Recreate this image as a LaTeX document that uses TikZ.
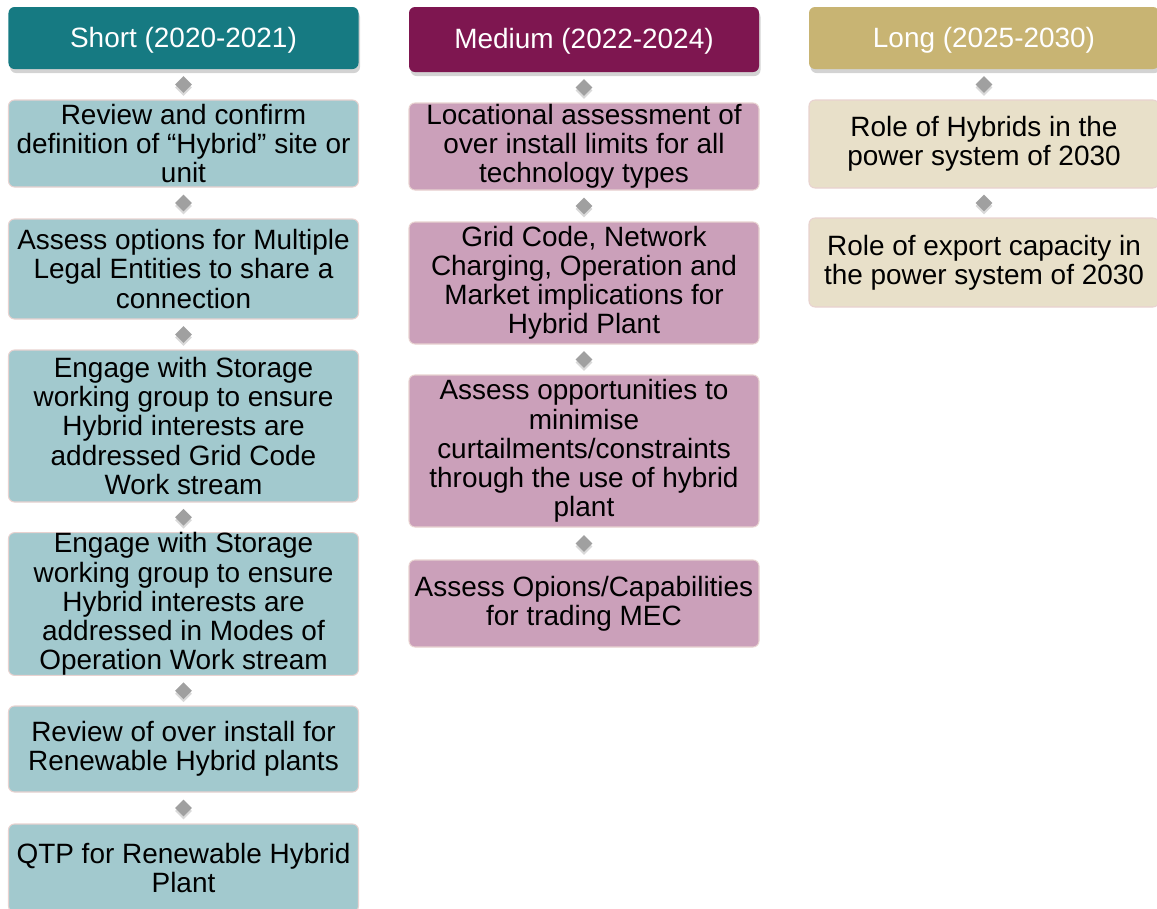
\documentclass[tikz,border=0pt]{standalone}
\usepackage{fontspec}
\setmainfont{Liberation Sans}
\usetikzlibrary{shapes.geometric,shadows,calc}

\definecolor{shortdark}{RGB}{22,122,130}
\definecolor{shortlight}{RGB}{162,201,206}
\definecolor{mediumdark}{RGB}{126,22,80}
\definecolor{mediumlight}{RGB}{203,160,186}
\definecolor{longdark}{RGB}{200,180,115}
\definecolor{longlight}{RGB}{232,224,201}
\definecolor{taskline}{RGB}{232,210,208}
\definecolor{linkgray}{RGB}{160,160,160}

\begin{document}
\begin{tikzpicture}[head/.style={rectangle, rounded corners=1.2mm, minimum width=7cm, inner sep=0pt, text=white, text height=10.6pt, text depth=0pt, font=\fontsize{15.9}{16.6}\selectfont, drop shadow={shadow xshift=0.3mm, shadow yshift=-0.8mm, opacity=0.35}},
    task/.style={rectangle, rounded corners=1.2mm, minimum width=7cm, inner sep=0pt, align=center, draw=taskline, line width=0.6pt, font=\fontsize{15.9}{16.6}\selectfont},
    link/.style={diamond, fill=linkgray, minimum size=0.34cm, inner sep=0pt, drop shadow={shadow xshift=0pt, shadow yshift=-0.6mm, opacity=0.3}}]
    \useasboundingbox (0,0) rectangle (23.14,-18.18);

        % Short term.
        \node[head, fill=shortdark, minimum height=1.24cm] (S-0) at (3.67,-0.76) {Short (2020-2021)};
        \node[task, fill=shortlight, minimum height=1.74cm] (S-1) at (3.67,-2.87) {Review and confirm\\definition of “Hybrid” site or\\unit};
        \node[task, fill=shortlight, minimum height=2.0cm] (S-2) at (3.67,-5.38) {Assess options for Multiple\\Legal Entities to share a\\connection};
        \node[task, fill=shortlight, minimum height=3.04cm] (S-3) at (3.67,-8.52) {Engage with Storage\\working group to ensure\\Hybrid interests are\\addressed Grid Code\\Work stream};
        \node[task, fill=shortlight, minimum height=2.84cm] (S-4) at (3.67,-12.08) {Engage with Storage\\working group to ensure\\Hybrid interests are\\addressed in Modes of\\Operation Work stream};
        \node[task, fill=shortlight, minimum height=1.72cm] (S-5) at (3.67,-14.98) {Review of over install for\\Renewable Hybrid plants};
        \node[task, fill=shortlight, minimum height=1.76cm] (S-6) at (3.67,-17.36) {QTP for Renewable Hybrid\\Plant};

        % Medium term.
        \node[head, fill=mediumdark, minimum height=1.3cm] (M-0) at (11.68,-0.79) {Medium (2022-2024)};
        \node[task, fill=mediumlight, minimum height=1.74cm] (M-1) at (11.68,-2.93) {Locational assessment of\\over install limits for all\\technology types};
        \node[task, fill=mediumlight, minimum height=2.44cm] (M-2) at (11.68,-5.66) {Grid Code, Network\\Charging, Operation and\\Market implications for\\Hybrid Plant};
        \node[task, fill=mediumlight, minimum height=3.04cm] (M-3) at (11.68,-9.02) {Assess opportunities to\\minimise\\curtailments/constraints\\through the use of hybrid\\plant};
        \node[task, fill=mediumlight, minimum height=1.74cm] (M-4) at (11.68,-12.07) {Assess Opions/Capabilities\\for trading MEC};

        % Long term.
        \node[head, fill=longdark, minimum height=1.24cm] (L-0) at (19.68,-0.76) {Long (2025-2030)};
        \node[task, fill=longlight, minimum height=1.76cm] (L-1) at (19.68,-2.88) {Role of Hybrids in the\\power system of 2030};
        \node[task, fill=longlight, minimum height=1.78cm] (L-2) at (19.68,-5.25) {Role of export capacity in\\the power system of 2030};

        % Links.
        \foreach \a/\b in {0/1,1/2,2/3,3/4,4/5,5/6}
            \node[link] (S-\a-\b) at ($(S-\a.south)!0.5!(S-\b.north)$) {};
        \foreach \a/\b in {0/1,1/2,2/3,3/4}
            \node[link] (M-\a-\b) at ($(M-\a.south)!0.5!(M-\b.north)$) {};
        \foreach \a/\b in {0/1,1/2}
            \node[link] (L-\a-\b) at ($(L-\a.south)!0.5!(L-\b.north)$) {};

    \end{tikzpicture}
\end{document}
